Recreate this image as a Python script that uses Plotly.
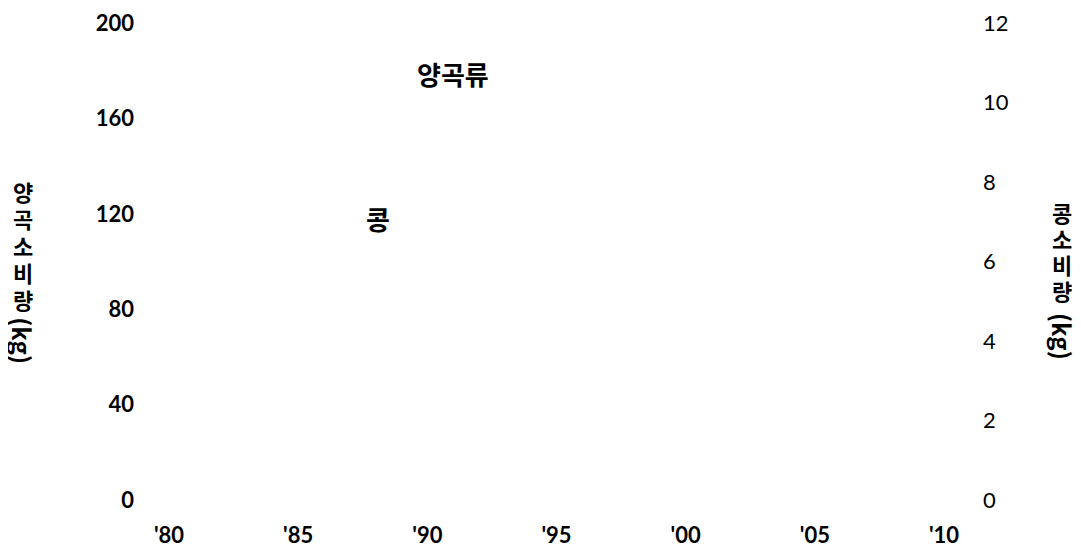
import plotly.graph_objects as go

years = [1980, 1985, 1990, 1995, 2000, 2005, 2010]
year_labels = ["'80", "'85", "'90", "'95", "'00", "'05", "'10"]
grain_kg = [None] * len(years)   # no visible line in the reference
bean_kg = [None] * len(years)    # no visible line in the reference
left_ticks = [0, 40, 80, 120, 160, 200]
right_ticks = [0, 2, 4, 6, 8, 10, 12]
series_labels = ["양곡류", "콩"]
label_pos = [(1991.0, 179), (1988.1, 118)]
left_title_chars = ["양", "곡", "소", "비", "량"]
right_title_chars = ["콩", "소", "비", "량"]
unit_text = "(kg)"

FONT = "Lato, 'Noto Sans CJK KR', sans-serif"
KFONT = "'Noto Sans CJK KR', sans-serif"

fig = go.Figure()
fig.add_trace(go.Scatter(x=years, y=grain_kg, mode="lines", name=series_labels[0],
                         line=dict(color="rgba(0,0,0,0)"), showlegend=False, hoverinfo="skip"))
fig.add_trace(go.Scatter(x=years, y=bean_kg, mode="lines", name=series_labels[1], yaxis="y2",
                         line=dict(color="rgba(0,0,0,0)"), showlegend=False, hoverinfo="skip"))

for txt, (x, y) in zip(series_labels, label_pos):
    fig.add_annotation(x=x, y=y, xref="x", yref="y", text=f"<b>{txt}</b>", showarrow=False,
                       font=dict(family=KFONT, size=26, color="black"))


def vertical_title(chars, x, y0, step, unit_y):
    """Upright Korean characters stacked top-to-bottom, followed by a rotated unit."""
    for i, ch in enumerate(chars):
        fig.add_annotation(xref="paper", yref="paper", x=x, y=y0 - i * step,
                           xanchor="center", yanchor="middle", text=f"<b>{ch}</b>",
                           showarrow=False, borderpad=0,
                           font=dict(family=KFONT, size=22, color="black"))
    fig.add_annotation(xref="paper", yref="paper", x=x, y=unit_y, xanchor="center",
                       yanchor="middle", text=f"<b>{unit_text}</b>", textangle=90,
                       showarrow=False, borderpad=0,
                       font=dict(family=KFONT, size=24, color="black"))


vertical_title(left_title_chars, -0.1885, 0.647, 0.0566, 0.333)
vertical_title(right_title_chars, 1.1523, 0.604, 0.0549, 0.344)

fig.update_layout(
    width=1081, height=550,
    margin=dict(l=161, r=145, t=15, b=58),
    paper_bgcolor="white", plot_bgcolor="white",
    showlegend=False,
    xaxis=dict(range=[1980, 2010], tickmode="array", tickvals=years,
               ticktext=[f"<b>{t}</b>" for t in year_labels], automargin=False,
               showgrid=False, zeroline=False, showline=False, ticks="",
               tickfont=dict(family=FONT, size=22, color="black"), ticklabelstandoff=20),
    yaxis=dict(range=[0, 200], tickmode="array", tickvals=left_ticks,
               ticktext=[f"<b>{v}</b>" for v in left_ticks], automargin=False,
               showgrid=False, zeroline=False, showline=False, ticks="",
               tickfont=dict(family=FONT, size=22, color="black"), ticklabelstandoff=34),
    yaxis2=dict(range=[0, 12], tickmode="array", tickvals=right_ticks, overlaying="y", side="right",
                showgrid=False, zeroline=False, showline=False, ticks="", automargin=False,
                tickfont=dict(family=FONT, size=22, color="black"), ticklabelstandoff=38),
)

fig.write_html("out.html")
